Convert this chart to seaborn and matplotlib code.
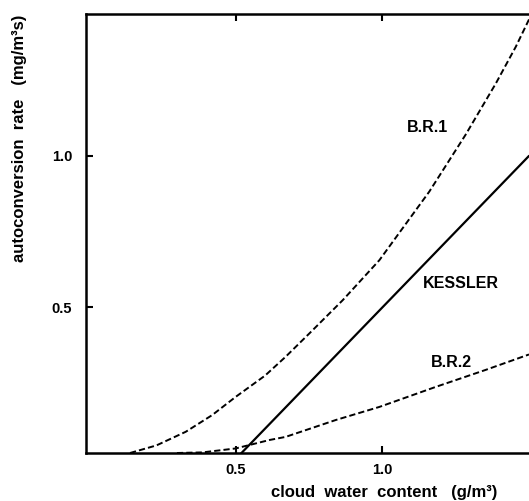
import matplotlib
matplotlib.use("Agg")
import matplotlib.pyplot as plt
import seaborn as sns
import pandas as pd

# values (cloud water g/m3 -> autoconversion mg/m3/s)
br1_x = [0.14, 0.23, 0.33, 0.42, 0.50, 0.60, 0.67, 0.752, 0.865, 0.99, 1.16, 1.284, 1.387, 1.455, 1.50]
br1_y = [0.02, 0.045, 0.09, 0.145, 0.205, 0.275, 0.337, 0.415, 0.524, 0.656, 0.882, 1.07, 1.239, 1.36, 1.45]

br2_x = [0.30, 0.387, 0.50, 0.616, 0.67, 0.842, 0.99, 1.182, 1.352, 1.50]
br2_y = [0.02, 0.022, 0.035, 0.063, 0.073, 0.129, 0.172, 0.238, 0.294, 0.345]

kessler_x = [0.5, 1.5]
kessler_y = [0.0, 1.0]

curve_labels = ["B.R.1", "KESSLER", "B.R.2"]
label_pos = [(1.153, 1.092), (1.269, 0.58), (1.235, 0.317)]

sns.set_theme(style="ticks")
plt.rcParams["font.family"] = ["Liberation Sans", "DejaVu Sans"]
plt.rcParams["text.color"] = "black"
plt.rcParams["axes.labelcolor"] = "black"
plt.rcParams["xtick.color"] = "black"
plt.rcParams["ytick.color"] = "black"

fig = plt.figure(figsize=(5.29, 5.01), dpi=100)
ax = fig.add_axes([86 / 529, 48 / 501, 443 / 529, 439 / 501])

df1 = pd.DataFrame({"x": br1_x, "y": br1_y})
df2 = pd.DataFrame({"x": br2_x, "y": br2_y})
dfk = pd.DataFrame({"x": kessler_x, "y": kessler_y})

sns.lineplot(data=df1, x="x", y="y", ax=ax, color="black", lw=1.4)
sns.lineplot(data=df2, x="x", y="y", ax=ax, color="black", lw=1.4)
sns.lineplot(data=dfk, x="x", y="y", ax=ax, color="black", lw=1.6)
ax.lines[0].set_dashes((3.2, 1.6))
ax.lines[1].set_dashes((3.2, 1.6))

for txt, (tx, ty) in zip(curve_labels, label_pos):
    ax.text(tx, ty, txt, ha="center", va="center", fontsize=11.5,
            fontweight="bold", color="black")

ax.set_xlim(-0.01, 1.5)
ax.set_ylim(0.02, 1.468)
ax.set_xticks([0.5, 1.0])
ax.set_xticklabels(["0.5", "1.0"])
ax.set_yticks([0.5, 1.0])
ax.set_yticklabels(["0.5", "1.0"])
ax.tick_params(direction="in", length=5, width=1.5, labelsize=10.5, top=True)
ax.tick_params(axis="y", pad=10)
ax.tick_params(axis="x", pad=7)
for lab in ax.get_xticklabels() + ax.get_yticklabels():
    lab.set_fontweight("bold")

for side in ["left", "bottom", "top"]:
    ax.spines[side].set_linewidth(1.8)
    ax.spines[side].set_color("black")
ax.spines["right"].set_visible(False)

ax.set_xlabel("cloud  water  content   (g/m\u00b3)", fontsize=12, fontweight="bold")
ax.set_ylabel("autoconversion  rate   (mg/m\u00b3s)", fontsize=12, fontweight="bold")
ax.xaxis.set_label_coords((384 - 86) / 443, -(493 - 453) / 439)
ax.yaxis.set_label_coords((20 - 86) / 443, (453 - 138) / 439)
ax.xaxis.label.set_va("center")
ax.yaxis.label.set_va("center")

fig.savefig("out.png", dpi=100)
